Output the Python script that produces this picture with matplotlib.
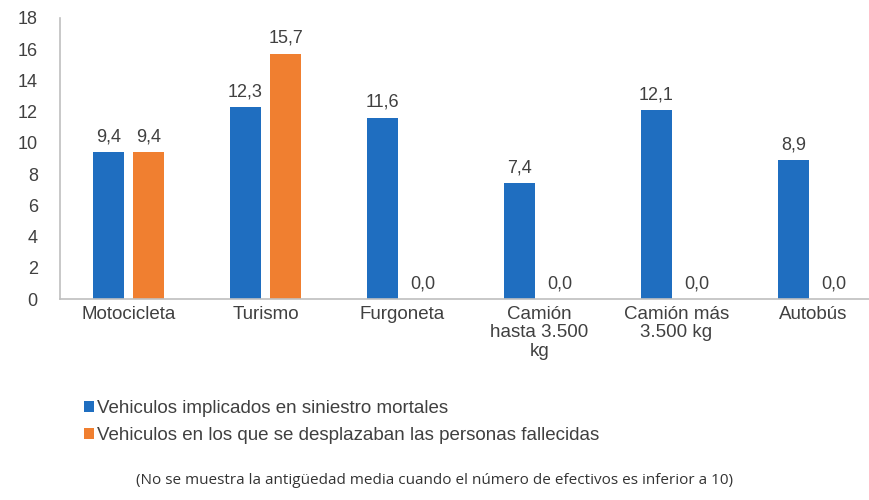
import matplotlib
matplotlib.use("Agg")
import matplotlib.pyplot as plt
import numpy as np

# Datos
categorias = ["Motocicleta", "Turismo", "Furgoneta", "Camión\nhasta 3.500\nkg",
              "Camión más\n3.500 kg", "Autobús"]
implicados = [9.4, 12.3, 11.6, 7.4, 12.1, 8.9]
fallecidos = [9.4, 15.7, 0.0, 0.0, 0.0, 0.0]
serie_nombres = ["Vehiculos implicados en siniestro mortales",
                 "Vehiculos en los que se desplazaban las personas fallecidas"]
nota = "(No se muestra la antigüedad media cuando el número de efectivos es inferior a 10)"

azul = "#1F6EC0"
naranja = "#F07F30"
gris_texto = "#404040"
fs = 13

plt.rcParams['font.family'] = ['Liberation Sans', 'DejaVu Sans']

fig = plt.figure(figsize=(8.69, 5.0), dpi=100)
ax = fig.add_axes([60 / 869, 1 - 299 / 500, 809 / 869, 281 / 500])

x = np.arange(len(categorias))
ancho = 0.22
desp = 0.146

b1 = ax.bar(x - desp, implicados, ancho, color=azul, label=serie_nombres[0])
b2 = ax.bar(x + desp, fallecidos, ancho, color=naranja, label=serie_nombres[1])

#Etiquetas de valor encima de cada barra
for barras in (b1, b2):
    for b in barras:
        v = b.get_height()
        ax.annotate(f"{v:.1f}".replace(".", ","),
                    (b.get_x() + b.get_width() / 2, v),
                    xytext=(0, 5), textcoords="offset points",
                    ha="center", va="bottom", fontsize=fs, color=gris_texto)

ax.set_xlim(-0.5, -0.5 + 809 / 137)
ax.set_ylim(0, 18)
ax.set_yticks(np.arange(0, 19, 2))
ax.set_xticks(x)
ax.set_xticklabels(categorias, fontsize=13.5, color=gris_texto, linespacing=1.1)
ax.tick_params(axis="y", length=0, pad=16, labelsize=fs, labelcolor=gris_texto)
ax.tick_params(axis="x", length=0, pad=5)

for s in ("top", "right"):
    ax.spines[s].set_visible(False)
for s in ("left", "bottom"):
    ax.spines[s].set_color("#BFBFBF")
    ax.spines[s].set_linewidth(1.2)

fig.legend(handles=[b1, b2], labels=serie_nombres, loc="upper left",
           bbox_to_anchor=(0.088, 0.215), bbox_transform=fig.transFigure,
           frameon=False, fontsize=13.5, handlelength=0.55, handleheight=0.55,
           handletextpad=0.15, labelspacing=0.55, borderaxespad=0,
           labelcolor=gris_texto)

fig.text(0.5, 0.04, nota, ha="center", va="center", fontsize=11,
         color="#333333", family=["Open Sans", "DejaVu Sans"])

fig.savefig("out.png", dpi=100)
